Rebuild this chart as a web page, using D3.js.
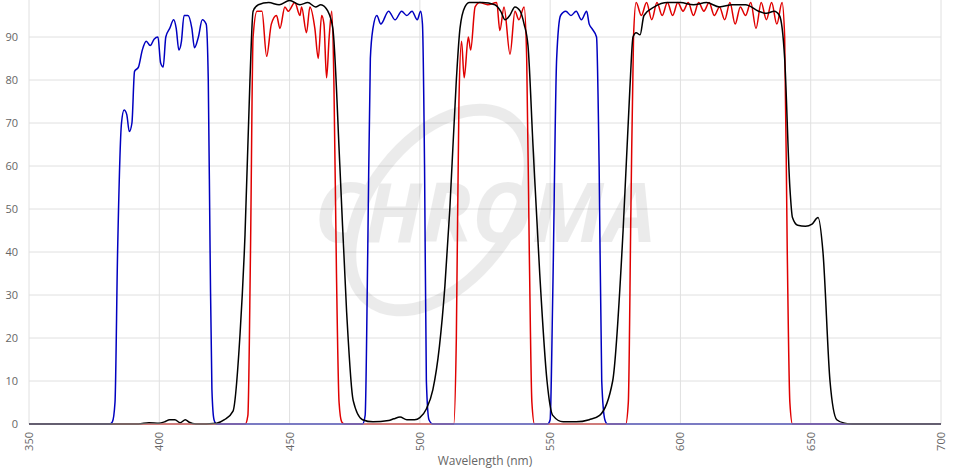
<!DOCTYPE html>
<html><head><meta charset="utf-8">
<script src="https://cdn.jsdelivr.net/npm/d3@7"></script>
<style>body{margin:0;background:#fff}svg{font-family:"Open Sans",Arial,sans-serif}</style>
</head><body><svg id="c" width="957" height="470"></svg>
<script>
const xTicks=[350,400,450,500,550,600,650,700];
const yTicks=[0,10,20,30,40,50,60,70,80,90];
const blue=[[350,0],[381,0],[382,0.5],[383,5],[384,40],[385.5,70],[386.5,73],[387.5,72],[388.5,68],[389.5,70],[390.5,82],[392,83],[393.5,87],[395,89],[396.5,88],[398,89.5],[399.5,90],[400.5,84],[401.5,83],[402.5,90],[404,92],[405.5,94],[406.5,92],[407.5,87],[408.5,89],[409.5,95],[411,95],[412.5,92],[413.5,87.5],[415,90],[416.5,94],[418,93],[418.8,80],[419.5,40],[420.2,8],[421,1],[422,0],[478,0],[479,2],[480,40],[481,85],[482,92],[483.5,95],[485,93],[488,96],[490.5,94],[493,96],[495,95],[497,96],[499,94],[500.3,96],[501,93],[501.8,60],[502.5,10],[503.5,1],[505,0],[549,0],[550,1],[551,30],[552.5,85],[554,95],[556,96],[558,95],[560,96],[562,94],[564,96],[565,93],[566,92],[567.8,90],[568.8,60],[569.8,10],[571,1],[572,0],[700,0]];
const red=[[350,0],[433,0],[434,2],[435,40],[436,90],[437.5,96],[439.4,96],[441.2,85.5],[443,93],[445,95],[446.3,92],[448.2,97],[449.5,96],[452,98],[454,95],[454.6,97],[456.5,91],[457.8,97],[459.7,92],[461,85],[462.3,95],[463.2,93],[464.2,80.5],[465.2,90],[466.2,96],[467,80],[468,35],[469,5],[470,0.5],[471,0],[513,0],[514,20],[515,75],[516,89],[517,80.5],[518.6,90],[519.5,87],[521.2,97],[523,98],[526,97.5],[529.5,98],[530.7,91.5],[532.3,97],[534.6,86],[536.5,96],[538,94],[540,97],[541,85],[542,40],[543,5],[544,0],[579,0],[580,5],[581,50],[582,90],[583,98],[585,95],[587,98],[589,94],[591,98],[593,95],[595,98],[597,95],[599,98],[601,96],[603,98],[605,95],[607,98],[609,96],[611,98],[613,95],[615,97],[617,94],[619,98],[621,93],[623,97],[625,95],[627,98],[629,92],[631,98],[633,94],[635,98],[637,93],[639,98],[640,90],[641,40],[642,5],[643,0],[700,0]];
const black=[[350,0],[392,0],[396,0.3],[400,0.2],[402,0.5],[404,1],[406,1],[408,0.3],[410,1],[411.5,0.4],[414,0],[422,0.2],[425,1],[428.3,3],[431,21],[432.9,44],[434.8,80],[436,96],[438,97.5],[442,98],[446,97.5],[450,98.5],[454,97.5],[457,98],[460,97],[462,97.5],[464.7,96],[466.6,92],[469.3,60],[471.9,26],[474.4,5.5],[478,1],[482,0.5],[488,0.8],[490,1.2],[492.4,1.6],[495,1],[498,1],[500,1.5],[502.5,3.5],[505,8],[507.5,18],[509.6,32],[511.5,50],[514,80],[515.4,92],[517.3,97],[519,98],[524,98],[528.8,97.5],[531,96],[532.7,94],[534.5,95],[536.5,97],[538.5,96],[540,93],[541.5,88],[543.4,65],[546,35],[548.8,10],[551,2],[555,0.5],[560,0.5],[565,1],[569,2],[574,10],[578,45],[580.6,78],[581.8,90],[583,91],[584.5,90.5],[586,95],[590,97],[595,98],[600,98],[605,97.5],[610,98],[615,97],[620,97.5],[625,97.5],[630,96],[633,95.5],[636,96],[638,95],[640,85],[642,55],[643,48],[645,46.2],[648,46],[650.5,46.5],[652.8,48],[654.7,40],[657.4,10],[660,1],[663,0.2],[666,0],[700,0]];
const svg=d3.select('#c');
const x=d3.scaleLinear().domain([350,700]).range([29,941]);
const y=d3.scaleLinear().domain([0,100]).range([424,-6]);
const g=svg.append('g');
g.selectAll('.gx').data(xTicks).enter().append('line').attr('x1',d=>x(d)).attr('x2',d=>x(d)).attr('y1',0).attr('y2',424).attr('stroke','#e0e0e0');
g.selectAll('.gy').data(yTicks).enter().append('line').attr('x1',29).attr('x2',941).attr('y1',d=>y(d)).attr('y2',d=>y(d)).attr('stroke','#e0e0e0');
g.selectAll('.ty').data(yTicks).enter().append('text').attr('x',18).attr('y',d=>y(d)+4).attr('text-anchor','end').attr('font-size',11).attr('fill','#666').text(d=>d);
g.selectAll('.tx').data(xTicks).enter().append('text').attr('transform',d=>`translate(${x(d)+4},432) rotate(-90)`).attr('text-anchor','end').attr('font-size',11).attr('fill','#666').text(d=>d);
svg.append('text').attr('x',485).attr('y',465).attr('text-anchor','middle').attr('font-size',12).attr('fill','#666').text('Wavelength (nm)');
const wm=svg.append('g').attr('opacity',0.12);
wm.append('ellipse').attr('cx',440).attr('cy',210).attr('rx',70).attr('ry',115).attr('transform','rotate(38,440,210)').attr('fill','none').attr('stroke','#666').attr('stroke-width',12);
wm.append('text').attr('x',485).attr('y',242).attr('text-anchor','middle').attr('font-size',82).attr('font-weight','bold').attr('font-style','italic').attr('fill','#666').text('CHROMA');
const line=d3.line().x(d=>x(d[0])).y(d=>y(d[1])).curve(d3.curveMonotoneX);
svg.append('defs').append('clipPath').attr('id','cp').append('rect').attr('x',29).attr('y',0).attr('width',912).attr('height',426);
const lg=svg.append('g').attr('clip-path','url(#cp)');
[[red,'#e00000'],[blue,'#0000c0'],[black,'#000']].forEach(([d,c])=>lg.append('path').attr('d',line(d)).attr('fill','none').attr('stroke',c).attr('stroke-width',1.5));
svg.append('line').attr('x1',29).attr('x2',941).attr('y1',424).attr('y2',424).attr('stroke','#bbb');
</script></body></html>
